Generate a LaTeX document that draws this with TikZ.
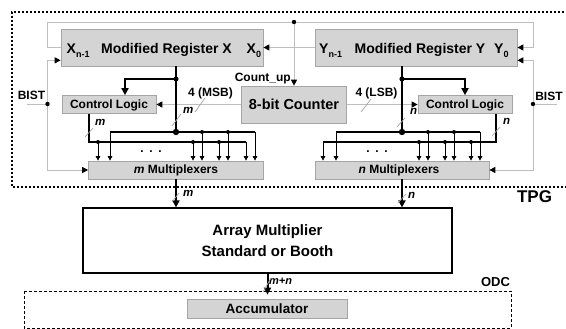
\documentclass[tikz,border=0pt]{standalone}
\usepackage{fontspec}
\setmainfont{Liberation Sans}
\usetikzlibrary{arrows.meta}
\definecolor{boxfill}{RGB}{212,212,212}
\definecolor{boxline}{RGB}{165,165,165}
\definecolor{wire}{RGB}{190,190,190}
\definecolor{slashc}{RGB}{165,165,165}
\newcommand{\lowtxt}[1]{\raisebox{-0.32em}{\fontsize{9}{9}\selectfont #1}}
\newcommand{\fsz}[1]{\fontsize{#1}{#1}\selectfont\bfseries}
\tikzset{
 gbox/.style={draw=boxline, fill=boxfill, line width=0.7pt, inner sep=0pt},
 wbox/.style={draw=black, fill=white, line width=1.2pt, inner sep=0pt},
 txt/.style={inner sep=0pt, anchor=base},
 wirel/.style={draw=wire, line width=0.9pt},
 tipk/.style={-{Triangle[length=6pt,width=6pt,color=black]}},
 tipbig/.style={-{Triangle[length=7pt,width=7pt]}},
 thickw/.style={line width=2pt},
 busw/.style={line width=1.5pt},
 tapw/.style={line width=0.7pt, -{Triangle[length=4.5pt,width=4.5pt]}},
 slashw/.style={draw=slashc, line width=0.7pt},
 tpgline/.style={line width=1.6pt, dash pattern=on 2pt off 2pt},
 odcline/.style={line width=0.9pt, dash pattern=on 3pt off 2pt},
 ital/.style={txt, anchor=base west, font=\fsz{11.5}\itshape},
}
\begin{document}
\begin{tikzpicture}[x=1pt,y=-1pt]
\useasboundingbox (0,0) rectangle (566,329);
% frames
\draw[tpgline] (568,12) -- (12,12) -- (12,187) -- (568,187);
\draw[odcline] (24,291) rectangle (511,328);

% boxes
\node[gbox, minimum width=202pt, minimum height=37pt] (regX) at (162,47.5) {};
\node[gbox, minimum width=202pt, minimum height=37pt] (regY) at (416,47.5) {};
\node[gbox, minimum width=105pt, minimum height=37pt] (cnt) at (294,104.5) {};
\node[gbox, minimum width=94pt, minimum height=18pt] (clL) at (109,104.5) {};
\node[gbox, minimum width=94pt, minimum height=18pt] (clR) at (465,104.5) {};
\node[gbox, minimum width=175pt, minimum height=18pt] (muxM) at (176,170) {};
\node[gbox, minimum width=174pt, minimum height=18pt] (muxN) at (402,170) {};
\node[wbox, minimum width=369pt, minimum height=65pt] (arr) at (267.5,240.5) {};
\node[gbox, minimum width=160pt, minimum height=19pt] (acc) at (267.5,308.5) {};

% box texts
\node[txt, font=\fsz{14}] (tX) at (166.5,53.3) {Modified Register X};
\node[txt, anchor=base west, font=\fsz{14}] (tXn) at (66.5,53.3) {X\lowtxt{n-1}};
\node[txt, anchor=base west, font=\fsz{14}] (tX0) at (246.5,53.3) {X\lowtxt{0}};
\node[txt, font=\fsz{14}] (tY) at (420,53.3) {Modified Register Y};
\node[txt, anchor=base west, font=\fsz{14}] (tYn) at (319,53.3) {Y\lowtxt{n-1}};
\node[txt, anchor=base west, font=\fsz{14}] (tY0) at (494,53.3) {Y\lowtxt{0}};
\node[txt, font=\fsz{14.5}] (tcnt) at (294,110) {8-bit Counter};
\node[txt, font=\fsz{12}] (tclL) at (109,108.3) {Control Logic};
\node[txt, font=\fsz{12}] (tclR) at (465,108.3) {Control Logic};
\node[txt, font=\fsz{12}] (tmuxM) at (176,174) {\textit{m} Multiplexers};
\node[txt, font=\fsz{12}] (tmuxN) at (399,174) {\textit{n} Multiplexers};
\node[txt, font=\fsz{15}] (tarr1) at (267.5,235) {Array Multiplier};
\node[txt, font=\fsz{15}] (tarr2) at (267.5,256) {Standard or Booth};
\node[txt, font=\fsz{13.5}] (tacc) at (267,313) {Accumulator};

% labels
\node[txt, anchor=base east, font=\fsz{12}] (lcnt) at (291,81.7) {Count\_up};
\node[txt, font=\fsz{12}] (lmsb) at (210.5,97) {4 (MSB)};
\node[txt, font=\fsz{12}] (llsb) at (376.5,97) {4 (LSB)};
\node[txt, font=\fsz{12}] (bistL) at (31.5,100) {BIST};
\node[txt, font=\fsz{12}] (bistR) at (549,100.5) {BIST};
\node[txt, font=\fsz{17}] (ltpg) at (534.5,202.7) {TPG};
\node[txt, font=\fsz{13}] (lodc) at (495.5,286) {ODC};
\node[ital] (lm1) at (183,113.3) {m};
\node[ital] (lm2) at (95,125.7) {m};
\node[ital] (lm3) at (183,196.7) {m};
\node[ital] (ln1) at (410,115) {n};
\node[ital] (ln2) at (503,125) {n};
\node[ital] (ln3) at (408,198) {n};
\node[ital, font=\fsz{11}\itshape] (lmn) at (269,284) {m+n};
\node[txt, font=\fsz{12}] (dots1) at (151,153) {.\hspace{5.7pt}.\hspace{5.7pt}.};
\node[txt, font=\fsz{12}] (dots2) at (377,153) {.\hspace{5.7pt}.\hspace{5.7pt}.};

% top loop
\coordinate (tL) at (47.5,22);
\coordinate (tR) at (533,22);
\coordinate (tM) at (294,22);
\draw[wirel,tipk] (regX.west) -| (tL) -- (tR) |- (regY.east);
\draw[wirel,tipk] (tM) -- (cnt.north);
\fill (tM) circle (2.2pt);
\draw[wirel,tipk] (regY.west) -- (regX.east);

% BIST
\coordinate (dL) at (47.5,104);
\coordinate (eL) at (27,104);
\draw[wirel] (eL) -- (dL);
\draw[wirel,tipk] (dL) |- ([yshift=6pt]regX.south west);
\draw[wirel,tipk] (dL) |- (muxM.west);
\fill (dL) circle (2.2pt);
\coordinate (dR) at (533,104);
\coordinate (eR) at (557,104);
\draw[wirel] (eR) -- (dR);
\draw[wirel,tipk] (dR) |- ([yshift=6pt]regY.south east);
\draw[wirel,tipk] (dR) |- (muxN.east);
\fill (dR) circle (2.2pt);

% counter outputs
\draw[wirel,tipk] (cnt.west) -- (clL.east);
\draw[wirel,tipk] (cnt.east) -- (clR.west);

% left data path
\coordinate (jL) at (176,132);
\coordinate (bL) at (176,79);
\coordinate (uL1) at (110,132);
\coordinate (uL2) at (255,132);
\coordinate (lL2) at (246,142);
\draw[thickw] (jL |- regX.south) -- (jL);
\draw[thickw,tipbig] (bL) -| ([xshift=16pt]clL.north);
\draw[busw] ([xshift=-20pt]clL.south) |- (lL2);
\draw[busw] (uL1) -- (uL2);
\foreach \xx in {98,193,219} {
  \coordinate (p) at (\xx,142);
  \draw[tapw] (p) -- (p |- muxM.north);
  \fill (p) circle (2pt);
}
\foreach \xx in {202,228} {
  \coordinate (p) at (\xx,132);
  \draw[tapw] (p) -- (p |- muxM.north);
  \fill (p) circle (2pt);
}
\draw[tapw] (lL2) -- (lL2 |- muxM.north);
\draw[tapw] (uL1) -- (uL1 |- muxM.north);
\draw[tapw] (uL2) -- (uL2 |- muxM.north);
\fill (bL) circle (2.6pt);
\fill (jL) circle (3.2pt);

% right data path
\coordinate (jR) at (402,132);
\coordinate (bR) at (402,79);
\coordinate (uR1) at (336,132);
\coordinate (uR2) at (480,132);
\coordinate (lR1) at (323,142);
\draw[thickw] (jR |- regY.south) -- (jR);
\draw[thickw,tipbig] (bR) -| (clR.north);
\draw[busw] ([xshift=31pt]clR.south) |- (lR1);
\draw[busw] (uR1) -- (uR2);
\foreach \xx in {419,445,471} {
  \coordinate (p) at (\xx,142);
  \draw[tapw] (p) -- (p |- muxN.north);
  \fill (p) circle (2pt);
}
\foreach \xx in {428,454} {
  \coordinate (p) at (\xx,132);
  \draw[tapw] (p) -- (p |- muxN.north);
  \fill (p) circle (2pt);
}
\draw[tapw] (lR1) -- (lR1 |- muxN.north);
\draw[tapw] (uR1) -- (uR1 |- muxN.north);
\draw[tapw] (uR2) -- (uR2 |- muxN.north);
\fill (bR) circle (2.6pt);
\fill (jR) circle (3.2pt);

% outputs
\draw[thickw,tipbig] (muxM.south) -- (muxM.south |- arr.north);
\draw[thickw,tipbig] (muxN.south) -- (muxN.south |- arr.north);
\draw[thickw,tipbig,shorten >=4pt] (arr.south) -- (acc.north);

% bus-width slashes
\draw[slashw] (195,112) -- (205,98);
\draw[slashw] (361,112) -- (371,99);
\draw[slashw] (172,126) -- (181,114);
\draw[slashw] (85,137) -- (93,128);
\draw[slashw] (397,127) -- (405,118);
\draw[slashw] (492,136) -- (500,127);
\draw[slashw] (172,202) -- (179,193);
\draw[slashw] (398,203) -- (406,194);
\draw[slashw] (263,292) -- (271,278);
\end{tikzpicture}
\end{document}
